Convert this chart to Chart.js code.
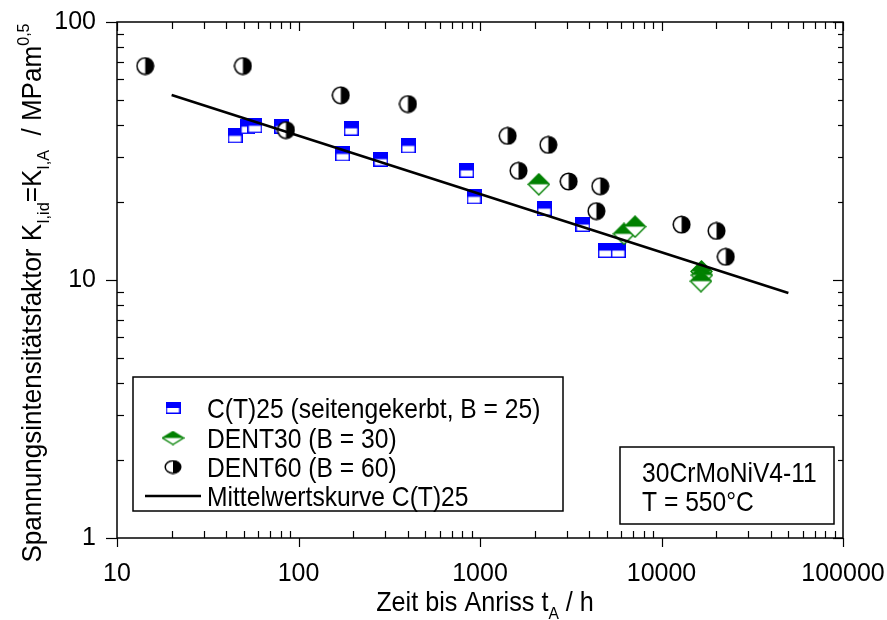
<!DOCTYPE html>
<html><head><meta charset="utf-8">
<script src="https://cdn.jsdelivr.net/npm/chart.js@4.4.1/dist/chart.umd.min.js"></script>
<style>html,body{margin:0;padding:0;background:#fff}#wrap{width:887px;height:620px}</style>
</head><body><div id="wrap"><canvas id="c" width="887" height="620"></canvas></div>
<script>
// ---- data ----
const xTickLabels = [10, 100, 1000, 10000, 100000];
const yTickLabels = [1, 10, 100];

const ct25Time = [44.7, 52.5, 57.5, 81, 175, 195, 284, 403, 845, 927, 2260, 3690, 4900, 5780];
const ct25K    = [36.2, 39.3, 39.6, 39.5, 30.8, 38.7, 29.4, 33.1, 26.6, 21.0, 18.9, 16.4, 13.0, 13.0];

const dent30Time = [2110, 6210, 7150, 16600, 16700, 16500];
const dent30K    = [23.5, 15.1, 16.1, 10.8, 10.45, 9.9];

const dent60Time = [14.3, 49.4, 85.3, 171, 401, 1420, 1630, 2380, 3080, 4380, 4600, 12900, 20100, 22600];
const dent60K    = [67.5, 67.5, 38.1, 52.0, 48.1, 36.2, 26.5, 33.4, 24.1, 18.5, 23.1, 16.4, 15.5, 12.3];

const fitTime = [20, 50000];
const fitK    = [52.1, 8.9];

const seriesNames = ['C(T)25 (seitengekerbt, B = 25)', 'DENT30 (B = 30)', 'DENT60 (B = 60)', 'Mittelwertskurve C(T)25'];
const infoLines = ['30CrMoNiV4-11', 'T = 550°C'];

// ---- styling ----
const FONT = '"Liberation Sans", Arial, sans-serif';
const FS = 28;      // text size of titles, legend, info box
const SX = 0.88;    // horizontal condensing of that text
const TICK_FS = 25;
const BLUE = '#0000ff', GREEN = '#008000';

function mkCanvas(w, h, fn) { const c = document.createElement('canvas'); c.width = w; c.height = h; fn(c.getContext('2d'), w, h); return c; }
function squareMarker(w0, h0) {
  return mkCanvas(w0, h0, (g, w, h) => {
    g.fillStyle = '#fff'; g.fillRect(0, 0, w, h);
    g.fillStyle = BLUE; g.fillRect(0, 0, w, h / 2);
    g.strokeStyle = BLUE; g.lineWidth = 1.5; g.strokeRect(0.75, 0.75, w - 1.5, h - 1.5);
  });
}
function diamondMarker(w0, h0) {
  return mkCanvas(w0, h0, (g, w, h) => {
    const cx = w / 2, cy = h / 2, rx = w / 2 - 1, ry = h / 2 - 1;
    g.beginPath(); g.moveTo(cx, cy - ry); g.lineTo(cx + rx, cy); g.lineTo(cx, cy + ry); g.lineTo(cx - rx, cy); g.closePath();
    g.fillStyle = '#fff'; g.fill();
    g.beginPath(); g.moveTo(cx, cy - ry); g.lineTo(cx + rx, cy); g.lineTo(cx - rx, cy); g.closePath();
    g.fillStyle = GREEN; g.fill();
    g.beginPath(); g.moveTo(cx, cy - ry); g.lineTo(cx + rx, cy); g.lineTo(cx, cy + ry); g.lineTo(cx - rx, cy); g.closePath();
    g.strokeStyle = GREEN; g.lineWidth = 1.4; g.stroke();
  });
}
function circleMarker(w0, h0) {
  return mkCanvas(w0, h0, (g, w, h) => {
    const cx = w / 2, cy = h / 2, rx = w / 2 - 1.2, ry = h / 2 - 1.2;
    g.beginPath(); g.ellipse(cx, cy, rx, ry, 0, 0, Math.PI * 2); g.fillStyle = '#fff'; g.fill();
    g.beginPath(); g.moveTo(cx, cy - ry); g.ellipse(cx, cy, rx, ry, 0, -Math.PI / 2, Math.PI / 2); g.closePath(); g.fillStyle = '#000'; g.fill();
    g.beginPath(); g.ellipse(cx, cy, rx, ry, 0, 0, Math.PI * 2); g.strokeStyle = '#000'; g.lineWidth = 1.5; g.stroke();
  });
}
const sqM = squareMarker(15, 15), dmM = diamondMarker(23, 23), ciM = circleMarker(19, 19);
const sqL = squareMarker(15, 12), dmL = diamondMarker(23, 15), ciL = circleMarker(18, 15);

const pts = (xs, ys) => xs.map((x, i) => ({ x, y: ys[i] }));
const isPow10 = v => Math.abs(Math.log10(v) - Math.round(Math.log10(v))) < 1e-9;

// text with sub/superscripts, condensed horizontally by sx
function drawRich(ctx, segs, x, y, align, sx) {
  sx = sx || SX;
  const sizes = { n: FS, sub: FS * 0.62, sup: FS * 0.62 };
  const offs = { n: 0, sub: FS * 0.28, sup: -FS * 0.42 };
  let total = 0;
  const ws = segs.map(s => { ctx.font = sizes[s[1]] + 'px ' + FONT; const w = ctx.measureText(s[0]).width; total += w; return w; });
  ctx.save();
  ctx.translate(x, y); ctx.scale(sx, 1);
  let cx = align === 'center' ? -total / 2 : 0;
  ctx.textAlign = 'left'; ctx.textBaseline = 'alphabetic';
  segs.forEach((s, i) => { ctx.font = sizes[s[1]] + 'px ' + FONT; ctx.fillText(s[0], cx, offs[s[1]]); cx += ws[i]; });
  ctx.restore();
}

const decor = {
  id: 'decor',
  afterDraw(chart) {
    const { ctx, chartArea: a, scales: { x, y } } = chart;
    ctx.save();
    ctx.strokeStyle = '#000'; ctx.lineWidth = 1.5;
    ctx.strokeRect(a.left, a.top, a.right - a.left, a.bottom - a.top);
    ctx.lineWidth = 1.2;
    const line = (x1, y1, x2, y2) => { ctx.beginPath(); ctx.moveTo(x1, y1); ctx.lineTo(x2, y2); ctx.stroke(); };
    for (let e = 1; e <= 5; e++) for (let m = 1; m <= 9; m++) {
      const v = m * Math.pow(10, e); if (v > 100000) break;
      const px = Math.round(x.getPixelForValue(v)) + 0.5, major = m === 1;
      if (major) line(px, a.bottom, px, a.bottom + 9); else line(px, a.bottom, px, a.bottom - 7);
      line(px, a.top, px, a.top + (major ? 9 : 7));
    }
    for (let e = 0; e <= 2; e++) for (let m = 1; m <= 9; m++) {
      const v = m * Math.pow(10, e); if (v > 100) break;
      const py = Math.round(y.getPixelForValue(v)) + 0.5, major = m === 1;
      if (major) line(a.left - 11, py, a.left, py); else line(a.left, py, a.left + 7, py);
      line(a.right, py, a.right - (major ? 10 : 5), py);
    }
    ctx.fillStyle = '#000';
    // x title
    drawRich(ctx, [['Zeit bis Anriss t', 'n'], ['A', 'sub'], [' / h', 'n']], (a.left + a.right) / 2 + 5, 611, 'center', 0.9);
    // y title
    ctx.save(); ctx.translate(41, 293); ctx.rotate(-Math.PI / 2);
    drawRich(ctx, [['Spannungsintensitätsfaktor K', 'n'], ['I,id', 'sub'], ['=K', 'n'], ['I,A', 'sub'], ['  / MPam', 'n'], ['0,5', 'sup']], 0, 0, 'center', 0.93);
    ctx.restore();
    // legend
    ctx.fillStyle = '#fff'; ctx.fillRect(133, 377, 430, 134);
    ctx.lineWidth = 1.5; ctx.strokeStyle = '#000'; ctx.strokeRect(133, 377, 430, 134);
    const rows = [408, 438, 467, 496];
    [sqL, dmL, ciL].forEach((m, i) => ctx.drawImage(m, 173 - m.width / 2, rows[i] - m.height / 2));
    ctx.lineWidth = 2.5; line(145, rows[3], 201, rows[3]);
    ctx.fillStyle = '#000';
    seriesNames.forEach((t, i) => drawRich(ctx, [[t, 'n']], 207, rows[i] + 10, 'left'));
    // info box
    ctx.lineWidth = 1.5; ctx.strokeRect(620, 447, 214, 77);
    infoLines.forEach((t, i) => drawRich(ctx, [[t, 'n']], 642, [482, 511][i], 'left'));
    ctx.restore();
  }
};

const zeroPad = s => { s.paddingTop = 0; s.paddingBottom = 0; s.paddingLeft = 0; s.paddingRight = 0; };

new Chart(document.getElementById('c'), {
  type: 'scatter',
  data: {
    datasets: [
      { label: seriesNames[3], type: 'line', data: pts(fitTime, fitK), borderColor: '#000', borderWidth: 2.5, pointRadius: 0, fill: false, showLine: true },
      { label: seriesNames[2], data: pts(dent60Time, dent60K), pointStyle: ciM, pointRadius: 9 },
      { label: seriesNames[1], data: pts(dent30Time, dent30K), pointStyle: dmM, pointRadius: 11 },
      { label: seriesNames[0], data: pts(ct25Time, ct25K), pointStyle: sqM, pointRadius: 8 }
    ]
  },
  options: {
    responsive: false, animation: false, devicePixelRatio: 1,
    layout: { padding: { left: 0, top: 22, right: 44, bottom: 0 } },
    plugins: { legend: { display: false }, tooltip: { enabled: false } },
    scales: {
      x: {
        type: 'logarithmic', min: 10, max: 100000, position: 'bottom',
        grid: { display: false }, border: { display: false },
        afterFit: s => { s.height = 82; zeroPad(s); },
        ticks: { autoSkip: false, maxRotation: 0, minRotation: 0, padding: 13, color: '#000', font: { family: FONT, size: TICK_FS },
          callback: v => (isPow10(v) && xTickLabels.includes(Math.round(v))) ? String(Math.round(v)) : '' }
      },
      y: {
        type: 'logarithmic', min: 1, max: 100,
        grid: { display: false }, border: { display: false },
        afterFit: s => { s.width = 117; zeroPad(s); },
        ticks: { autoSkip: false, padding: 13, color: '#000', font: { family: FONT, size: TICK_FS },
          callback: v => (isPow10(v) && yTickLabels.includes(Math.round(v))) ? String(Math.round(v)) : '' }
      }
    }
  },
  plugins: [decor]
});
</script></body></html>
